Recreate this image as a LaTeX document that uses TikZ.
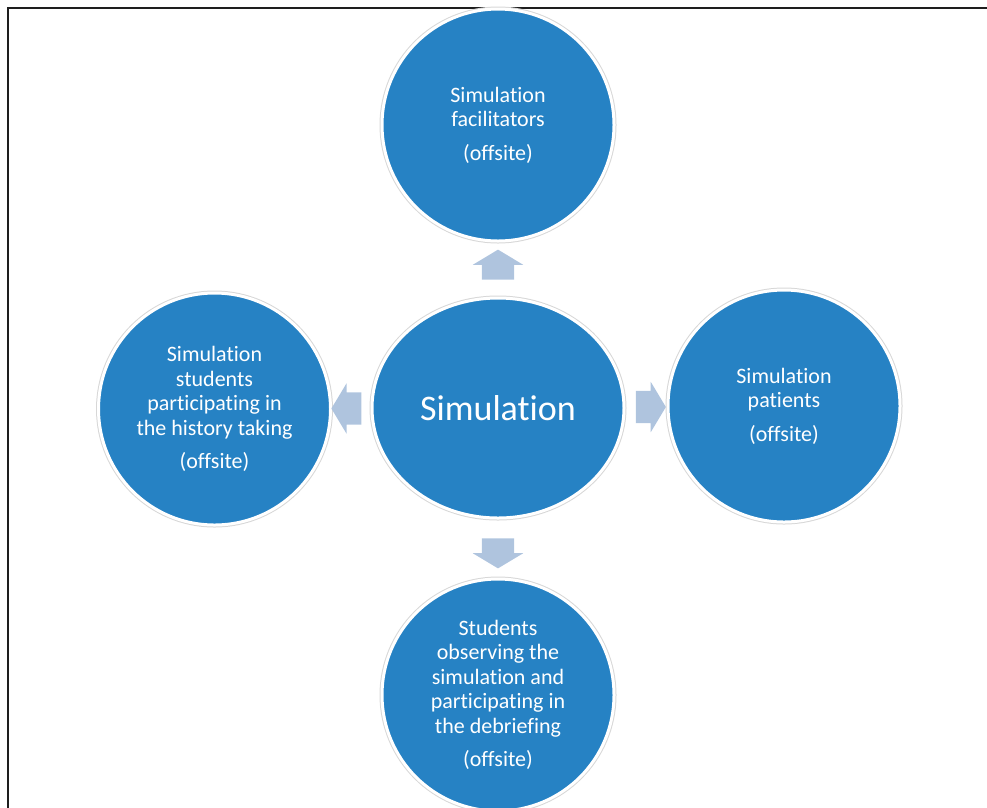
\documentclass[tikz,border=0pt]{standalone}
\usepackage{fontspec}
\setmainfont{Carlito}[Ligatures={NoCommon}, RawFeature={-liga;-calt;-dlig}]
\usetikzlibrary{shapes.geometric,shapes.arrows,calc}

\definecolor{discblue}{RGB}{38,130,196}
\definecolor{arrowblue}{RGB}{175,196,222}
\definecolor{rimgray}{RGB}{215,215,215}
\definecolor{framegray}{RGB}{30,30,30}

\tikzset{
  rimmed/.style={fill=discblue, draw=white, line width=3pt,
    preaction={draw=rimgray, line width=5pt}, text=white, align=center},
  disc/.style={rimmed, circle, minimum size=232pt, inner sep=0pt,
    font=\fontsize{22}{24.5}\selectfont},
  hub/.style={rimmed, ellipse, minimum width=252pt, minimum height=220pt,
    inner sep=0pt, font=\fontsize{36}{40}\selectfont},
  blockarrow/.style={single arrow, fill=arrowblue, draw=none,
    inner xsep=0pt, inner ysep=16pt, single arrow head extend=9pt,
    single arrow tip angle=118, minimum height=30pt}
}

\begin{document}
\begin{tikzpicture}[x=1pt, y=-1pt]
  \useasboundingbox (0,0) rectangle (987,807);
  \clip (0,0) rectangle (987,807);

  % page frame (only its top and left sides fall inside the view)
  \draw[framegray, line width=2pt] (8,8) rectangle (1100,900);

  % central topic and the four satellite groups
  \node[hub]  (sim)   at (498,408)   {Simulation};
  \node[disc] (fac)   at (498,125)   {Simulation\\facilitators\\[9pt](offsite)};
  \node[disc] (stud)  at (214.5,409) {Simulation\\students\\participating in\\the history taking\\[9pt](offsite)};
  \node[disc] (pat)   at (784,406)   {Simulation\\patients\\[9pt](offsite)};
  \node[disc] (obs)   at (498,695)   {Students\\observing the\\simulation and\\participating in\\the debriefing\\[9pt](offsite)};

  % block arrows pointing outward from the centre
  \node[blockarrow, rotate=90]  (toFac)  at ($(sim.north)!0.5!(fac.south)$) {};
  \node[blockarrow, rotate=180] (toStud) at ($(sim.west)!0.5!(stud.east)$)  {};
  \node[blockarrow]             (toPat)  at ($(sim.east)!0.5!(pat.west)$)   {};
  \node[blockarrow, rotate=-90] (toObs)  at ($(sim.south)!0.5!(obs.north)$) {};
\end{tikzpicture}
\end{document}
